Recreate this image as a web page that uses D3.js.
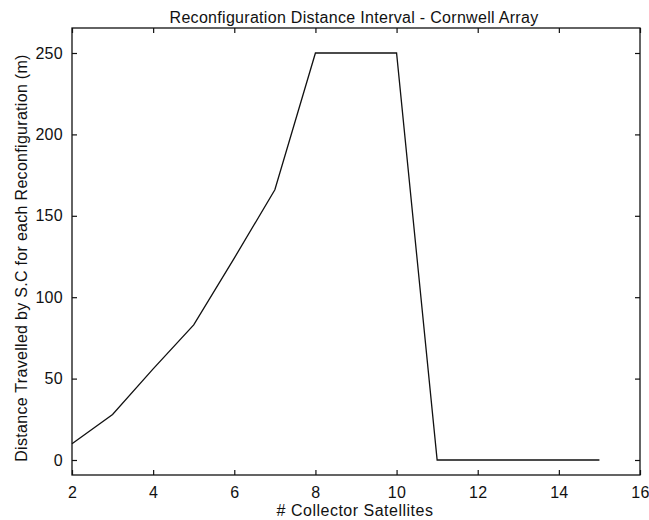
<!DOCTYPE html>
<html>
<head>
<meta charset="utf-8">
<script src="https://cdn.jsdelivr.net/npm/d3@7"></script>
<style>
  body { margin: 0; background: #fff; }
  text { font-family: "Liberation Sans", Arial, sans-serif; fill: #111; }
</style>
</head>
<body>
<script>
var satellites = [2, 3, 4, 5, 6, 7, 8, 9, 10, 11, 12, 13, 14, 15];
var distance = [10, 28, 56, 83, 124, 166, 250, 250, 250, 0, 0, 0, 0, 0];
var xTicks = [2, 4, 6, 8, 10, 12, 14, 16];
var yTicks = [0, 50, 100, 150, 200, 250];

var width = 649, height = 520;
var margin = {top: 28, right: 9, bottom: 45, left: 72};

var svg = d3.select("body").append("svg")
    .attr("width", width)
    .attr("height", height);

var x = d3.scaleLinear()
    .domain([2, 16])
    .range([margin.left, width - margin.right]);

// y(0)=460, y(250)=53
var y = d3.scaleLinear()
    .domain([0, 250])
    .range([460, 53]);

var tickLen = 5;

// box
svg.append("rect")
    .attr("x", margin.left)
    .attr("y", margin.top)
    .attr("width", width - margin.left - margin.right)
    .attr("height", height - margin.top - margin.bottom)
    .attr("fill", "none")
    .attr("stroke", "#111")
    .attr("stroke-width", 1.3);

// axes, ticks pointing inward
svg.append("g")
    .attr("transform", `translate(0,${height - margin.bottom})`)
    .call(d3.axisBottom(x).tickValues(xTicks).tickSize(-tickLen).tickPadding(12))
    .call(g => g.select(".domain").remove());

svg.append("g")
    .attr("transform", `translate(0,${margin.top})`)
    .call(d3.axisTop(x).tickValues(xTicks).tickSize(-tickLen).tickFormat(""))
    .call(g => g.select(".domain").remove());

svg.append("g")
    .attr("transform", `translate(${margin.left},0)`)
    .call(d3.axisLeft(y).tickValues(yTicks).tickSize(-tickLen).tickPadding(9))
    .call(g => g.select(".domain").remove());

svg.append("g")
    .attr("transform", `translate(${width - margin.right},0)`)
    .call(d3.axisRight(y).tickValues(yTicks).tickSize(-tickLen).tickFormat(""))
    .call(g => g.select(".domain").remove());

svg.selectAll(".tick line").attr("stroke", "#111").attr("stroke-width", 1.2);
svg.selectAll(".tick text")
    .style("font-size", "16px")
    .style("letter-spacing", "0.3px")
    .style("font-family", "'Liberation Sans', Arial, sans-serif")
    .attr("fill", "#111");

// data line
var line = d3.line()
    .x((d, i) => x(satellites[i]))
    .y(d => y(d));

svg.append("path")
    .datum(distance)
    .attr("d", line)
    .attr("fill", "none")
    .attr("stroke", "#111")
    .attr("stroke-width", 1.3);

// labels
svg.append("text")
    .attr("x", 354)
    .attr("y", 23)
    .attr("text-anchor", "middle")
    .style("font-size", "16px")
    .style("letter-spacing", "0.3px")
    .text("Reconfiguration Distance Interval - Cornwell Array");

svg.append("text")
    .attr("x", 355)
    .attr("y", 516)
    .attr("text-anchor", "middle")
    .style("font-size", "16px")
    .style("letter-spacing", "0.5px")
    .text("# Collector Satellites");

svg.append("text")
    .attr("transform", "translate(27,258) rotate(-90)")
    .attr("text-anchor", "middle")
    .style("font-size", "16px")
    .style("letter-spacing", "0.3px")
    .text("Distance Travelled by S.C for each Reconfiguration (m)");
</script>
</body>
</html>
